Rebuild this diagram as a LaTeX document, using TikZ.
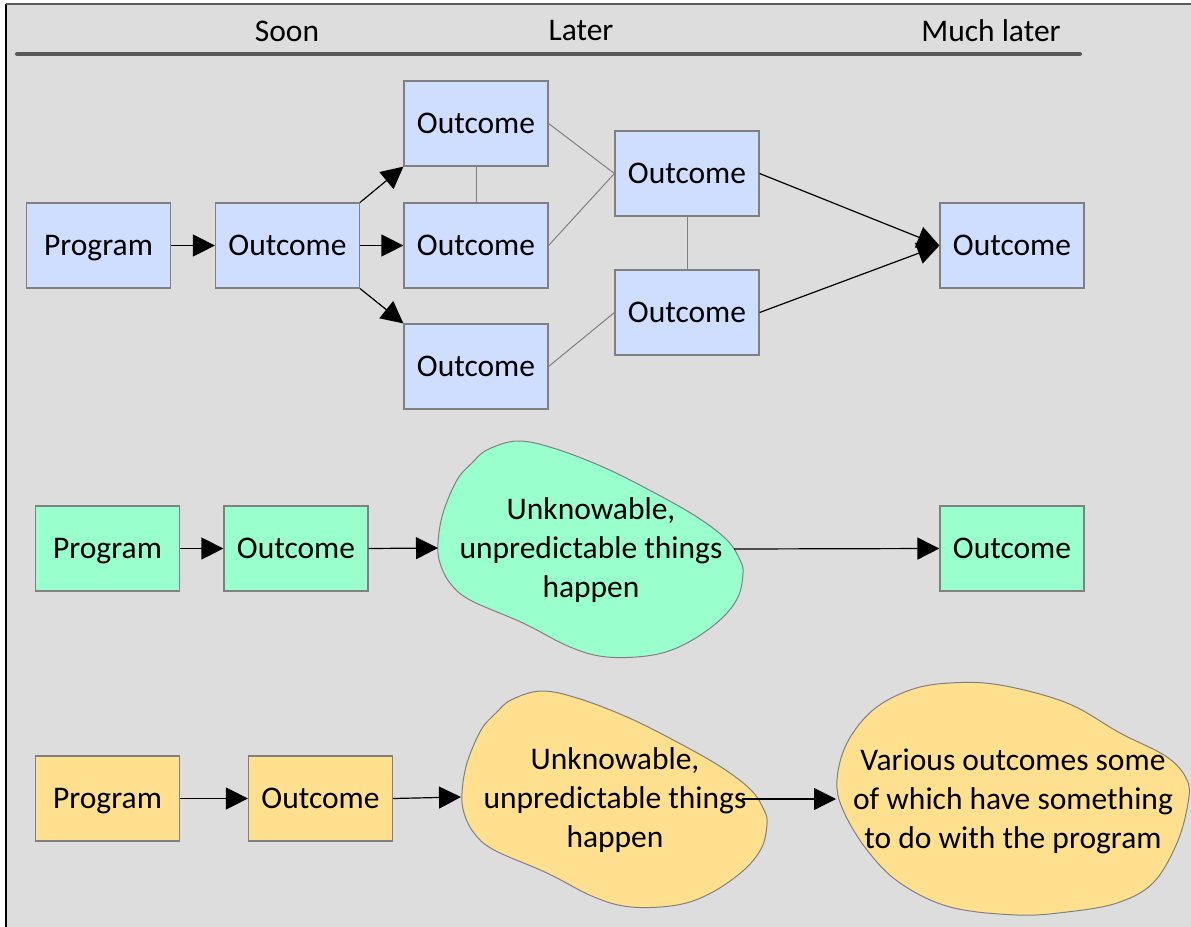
\documentclass[tikz,border=0pt]{standalone}
\usepackage{fontspec}
\setmainfont{Carlito}
\usetikzlibrary{arrows.meta}
\definecolor{bg}{HTML}{DDDDDD}
\definecolor{boxline}{HTML}{808080}
\definecolor{blueF}{HTML}{CFDEFF}
\definecolor{greenF}{HTML}{99FFCC}
\definecolor{yellowF}{HTML}{FFE08F}
\definecolor{ruleC}{HTML}{595959}
\begin{document}
\begin{tikzpicture}[x=0.5pt,y=-0.5pt,
  every node/.style={font=\fontsize{15.75}{19.5}\selectfont},
  box/.style={draw=boxline, line width=0.6pt, minimum width=72pt, minimum height=42.5pt,
              inner sep=0pt, text height=10pt, text depth=0pt},
  bbox/.style={box, fill=blueF},
  gbox/.style={box, fill=greenF},
  ybox/.style={box, fill=yellowF},
  arr/.style={-{Triangle[length=11pt,width=11pt]}, line width=0.6pt},
  link/.style={draw=boxline, line width=0.5pt},
  cloud/.style={draw=boxline, line width=0.5pt},
  cloudtext/.style={align=center, inner sep=0pt}
]
% canvas and frame
\useasboundingbox (0,0) rectangle (1191,927);
\fill[bg] (6,4) rectangle (1191,927);
\draw[black, line width=1pt] (6,4) -- (6,927);
\draw[ruleC, line width=1pt] (6,4) -- (1191,4);

% time axis
\draw[ruleC, line width=2pt, line cap=round] (17,54) -- (1080,54);
\node (soon) at (287,31) {Soon};
\node (later) at (581,31) {Later};
\node (muchlater) at (991,31) {Much later};

% ---- row 1: a tidy chain of outcomes ----
\node[bbox] (p1)   at (98.5,245.5) {Program};
\node[bbox] (o1)   at (287.5,245.5) {Outcome};
\node[bbox] (otop) at (476,123.5) {Outcome};
\node[bbox] (omid) at (476,245.5) {Outcome};
\node[bbox] (obot) at (476,366.5) {Outcome};
\node[bbox] (oru)  at (687,173.5) {Outcome};
\node[bbox] (orl)  at (687,312.5) {Outcome};
\node[bbox] (ofin) at (1012,245.5) {Outcome};

\draw[arr] (p1.east) -- (o1.west);
\draw[arr] (o1.north east) -- (otop.south west);
\draw[arr] (o1.east) -- (omid.west);
\draw[arr] (o1.south east) -- (obot.north west);
\draw[link] (otop.south) -- (omid.north);
\draw[link] (oru.south) -- (orl.north);
\draw[link] (otop.east) -- (oru.west);
\draw[link] (omid.east) -- (oru.west);
\draw[link] (obot.east) -- (orl.west);
\draw[arr] (oru.east) -- (ofin.west);
\draw[arr] (orl.east) -- (ofin.west);

% ---- row 2: the middle is unknowable ----
\node[gbox] (p2) at (107.5,548.5) {Program};
\node[gbox] (o2) at (296,548.5) {Outcome};
\node[gbox] (f2) at (1012,548.5) {Outcome};
\draw[cloud, fill=greenF] plot[smooth cycle, tension=0.6] coordinates {
  (472,463) (487,450) (517,441) (553,448) (603,467) (653,492) (697,517) (727,540)
  (740,560) (743,573) (738,597) (720,620) (687,643) (653,655) (607,657) (570,647)
  (523,623) (470,600) (450,583) (440,563) (438,543) (443,513) (457,480)};
\node[cloudtext] (u2) at (591,550.5) {Unknowable,\\unpredictable things\\happen};
\coordinate (u2in) at (438,548);
\coordinate (u2out) at (734,549);
\draw[arr] (p2.east) -- (o2.west);
\draw[arr] (o2.east) -- (u2in);
\draw[arr] (u2out) -- (f2.west);

% ---- row 3: unknowable middle, uncertain end ----
\node[ybox] (p3) at (107.5,798.5) {Program};
\node[ybox] (o3) at (320.5,798.5) {Outcome};
\begin{scope}[shift={(24,250)}]
\draw[cloud, fill=yellowF] plot[smooth cycle, tension=0.6] coordinates {
  (472,463) (487,450) (517,441) (553,448) (603,467) (653,492) (697,517) (727,540)
  (740,560) (743,573) (738,597) (720,620) (687,643) (653,655) (607,657) (570,647)
  (523,623) (470,600) (450,583) (440,563) (438,543) (443,513) (457,480)};
\end{scope}
\node[cloudtext] (u3) at (615,800.5) {Unknowable,\\unpredictable things\\happen};
\draw[cloud, fill=yellowF] plot[smooth cycle, tension=0.6] coordinates {
  (950,683) (1000,685) (1067,703) (1120,733) (1167,757) (1187,780) (1188,803)
  (1177,843) (1153,883) (1117,903) (1067,912) (1017,915) (950,907) (900,883)
  (867,850) (843,810) (837,780) (847,743) (873,710) (910,690)};
\node[cloudtext] (v3) at (1013,801) {Various outcomes some\\of which have something\\to do with the program};
\coordinate (u3in) at (461,797);
\coordinate (u3out) at (742,799);
\coordinate (v3in) at (836,799);
\draw[arr] (p3.east) -- (o3.west);
\draw[arr] (o3.east) -- (u3in);
\draw[arr] (u3out) -- (v3in);
\end{tikzpicture}
\end{document}
